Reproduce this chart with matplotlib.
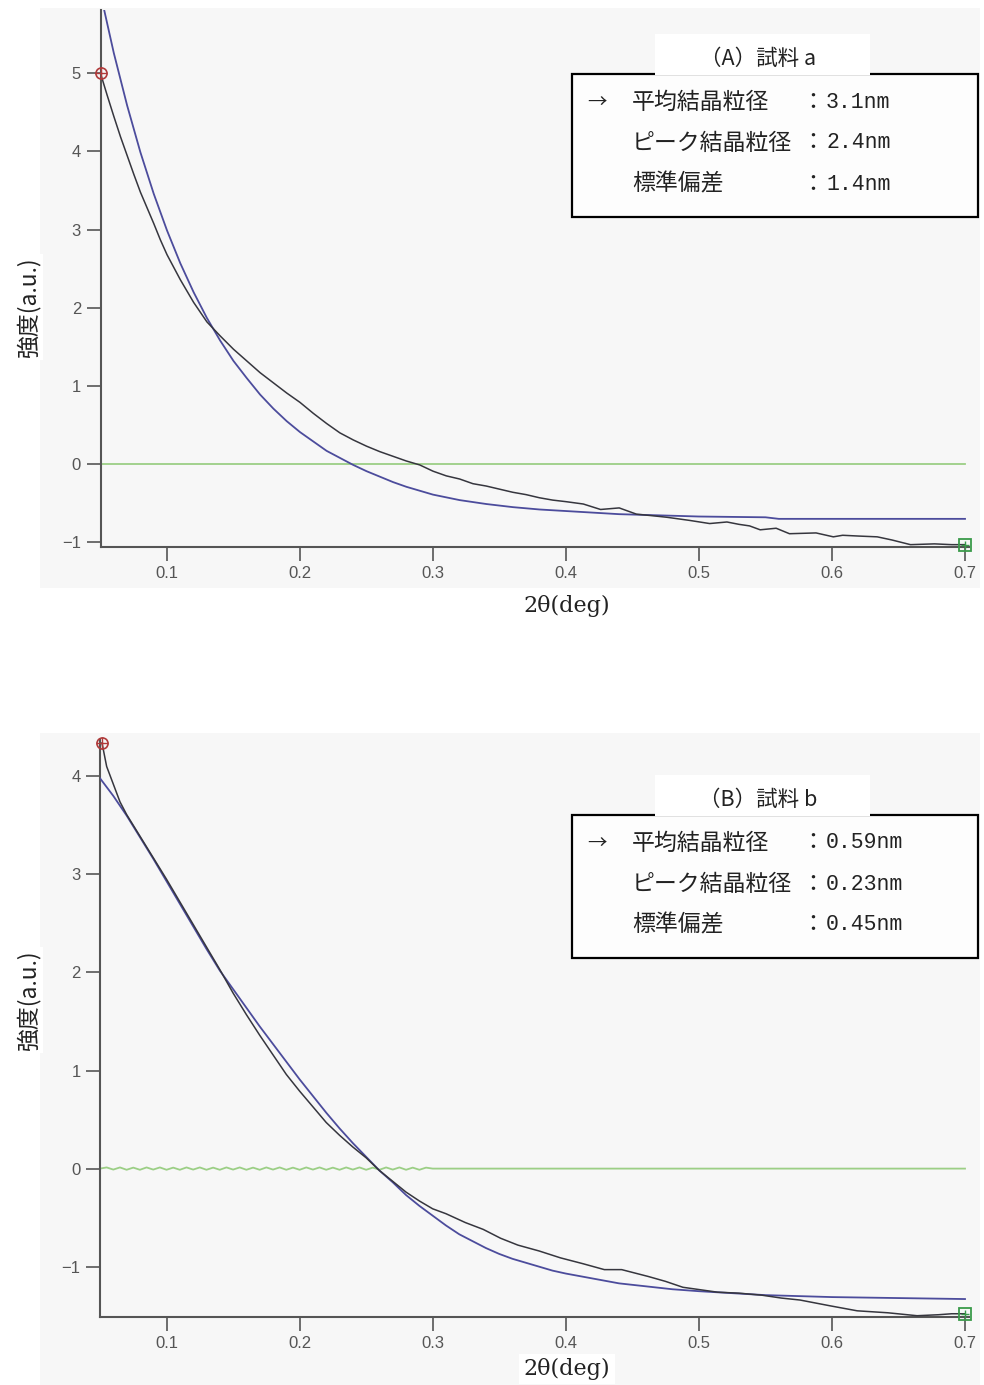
import numpy as np
import matplotlib.pyplot as plt
from matplotlib.patches import Rectangle

plt.rcParams['font.family'] = ['Noto Sans CJK JP', 'DejaVu Sans']

# ---- data ----
# (A) sample a
theta_a_data = [0.050, 0.055, 0.060, 0.065, 0.070, 0.075, 0.080, 0.085, 0.090, 0.095,
                0.100, 0.110, 0.120, 0.130, 0.140, 0.150, 0.160, 0.170, 0.180, 0.190,
                0.200, 0.210, 0.220, 0.230, 0.240, 0.250, 0.260, 0.270, 0.280, 0.290,
                0.300, 0.310, 0.320, 0.330, 0.340, 0.350, 0.360, 0.370, 0.380, 0.390,
                0.400, 0.413, 0.426, 0.433, 0.440, 0.453, 0.465, 0.476, 0.493, 0.508,
                0.521, 0.530, 0.538, 0.546, 0.558, 0.568, 0.588, 0.601, 0.608, 0.620,
                0.634, 0.645, 0.659, 0.677, 0.690, 0.700]
int_a_data = [5.00, 4.72, 4.45, 4.19, 3.95, 3.71, 3.48, 3.28, 3.08, 2.87,
              2.68, 2.36, 2.07, 1.82, 1.64, 1.47, 1.32, 1.17, 1.04, 0.91,
              0.79, 0.65, 0.52, 0.40, 0.31, 0.23, 0.16, 0.10, 0.04, -0.01,
              -0.09, -0.15, -0.19, -0.25, -0.28, -0.32, -0.36, -0.39, -0.43, -0.46,
              -0.48, -0.51, -0.58, -0.57, -0.56, -0.64, -0.66, -0.68, -0.72, -0.76,
              -0.74, -0.77, -0.79, -0.84, -0.82, -0.89, -0.88, -0.93, -0.91, -0.92,
              -0.93, -0.97, -1.03, -1.02, -1.03, -1.03]
theta_a_fit = [0.050, 0.060, 0.070, 0.080, 0.090, 0.100, 0.110, 0.120, 0.130, 0.140,
               0.150, 0.160, 0.170, 0.180, 0.190, 0.200, 0.210, 0.220, 0.230, 0.240,
               0.250, 0.260, 0.270, 0.280, 0.290, 0.300, 0.320, 0.340, 0.360, 0.380,
               0.400, 0.420, 0.440, 0.460, 0.480, 0.500, 0.550, 0.560, 0.600, 0.650, 0.700]
int_a_fit = [6.02, 5.26, 4.59, 3.99, 3.46, 2.99, 2.57, 2.20, 1.87, 1.58,
             1.32, 1.10, 0.89, 0.71, 0.55, 0.41, 0.29, 0.17, 0.08, -0.01,
             -0.09, -0.16, -0.23, -0.29, -0.34, -0.39, -0.46, -0.51, -0.55, -0.58,
             -0.60, -0.62, -0.64, -0.65, -0.66, -0.67, -0.68, -0.70, -0.70, -0.70, -0.70]
theta_a_resid = [0.050, 0.700]
resid_a = [0.0, 0.0]

# (B) sample b
theta_b_data = [0.0515, 0.055, 0.060, 0.065, 0.070, 0.080, 0.090, 0.100, 0.110, 0.120,
                0.130, 0.140, 0.150, 0.160, 0.170, 0.180, 0.190, 0.200, 0.210, 0.220,
                0.230, 0.240, 0.250, 0.260, 0.270, 0.280, 0.290, 0.300, 0.310, 0.3245,
                0.338, 0.351, 0.364, 0.380, 0.396, 0.413, 0.429, 0.442, 0.462, 0.475,
                0.488, 0.514, 0.530, 0.547, 0.562, 0.576, 0.599, 0.619, 0.642, 0.664,
                0.680, 0.690, 0.700]
int_b_data = [4.34, 4.10, 3.92, 3.74, 3.61, 3.39, 3.17, 2.95, 2.72, 2.49,
              2.26, 2.03, 1.79, 1.57, 1.36, 1.16, 0.96, 0.79, 0.63, 0.47,
              0.34, 0.22, 0.11, -0.02, -0.13, -0.24, -0.33, -0.41, -0.46, -0.55,
              -0.62, -0.71, -0.78, -0.84, -0.91, -0.97, -1.03, -1.03, -1.10, -1.15,
              -1.21, -1.26, -1.27, -1.29, -1.32, -1.34, -1.40, -1.45, -1.47, -1.50,
              -1.49, -1.48, -1.48]
theta_b_fit = [0.050, 0.060, 0.070, 0.080, 0.090, 0.100, 0.110, 0.120, 0.130, 0.140,
               0.150, 0.160, 0.170, 0.180, 0.190, 0.200, 0.210, 0.220, 0.230, 0.240,
               0.250, 0.260, 0.270, 0.280, 0.290, 0.300, 0.310, 0.320, 0.330, 0.340,
               0.350, 0.360, 0.370, 0.380, 0.390, 0.400, 0.420, 0.440, 0.460, 0.480,
               0.500, 0.550, 0.600, 0.650, 0.700]
int_b_fit = [3.98, 3.80, 3.60, 3.38, 3.16, 2.93, 2.70, 2.47, 2.24, 2.02,
             1.83, 1.64, 1.45, 1.27, 1.09, 0.91, 0.74, 0.57, 0.41, 0.26,
             0.12, -0.02, -0.14, -0.27, -0.38, -0.48, -0.58, -0.67, -0.74, -0.81,
             -0.87, -0.92, -0.96, -1.00, -1.04, -1.07, -1.12, -1.17, -1.20, -1.23,
             -1.25, -1.29, -1.31, -1.32, -1.33]
theta_b_resid = [0.050, 0.055, 0.060, 0.065, 0.070, 0.075, 0.080, 0.085, 0.090, 0.095,
                 0.100, 0.105, 0.110, 0.115, 0.120, 0.125, 0.130, 0.135, 0.140, 0.145,
                 0.150, 0.155, 0.160, 0.165, 0.170, 0.175, 0.180, 0.185, 0.190, 0.195,
                 0.200, 0.205, 0.210, 0.215, 0.220, 0.225, 0.230, 0.235, 0.240, 0.245,
                 0.250, 0.255, 0.260, 0.265, 0.270, 0.275, 0.280, 0.285, 0.290, 0.295,
                 0.300, 0.700]
resid_b = [0.000, 0.012, -0.010, 0.012, -0.012, 0.010, -0.012, 0.012, -0.010, 0.012,
           -0.012, 0.010, -0.012, 0.012, -0.010, 0.012, -0.012, 0.010, -0.012, 0.012,
           -0.010, 0.012, -0.012, 0.010, -0.012, 0.012, -0.010, 0.012, -0.012, 0.010,
           -0.012, 0.012, -0.010, 0.012, -0.012, 0.010, -0.012, 0.012, -0.010, 0.012,
           -0.012, 0.010, -0.012, 0.012, -0.010, 0.012, -0.012, 0.010, -0.012, 0.010,
           0.000, 0.000]

x_ticks = [0.1, 0.2, 0.3, 0.4, 0.5, 0.6, 0.7]
x_ticklabels = ['0.1', '0.2', '0.3', '0.4', '0.5', '0.6', '0.7']
y_ticks_a = [-1, 0, 1, 2, 3, 4, 5]
y_ticks_b = [-1, 0, 1, 2, 3, 4]

titles = ['（A）試料 a', '（B）試料 b']
row_labels = ['平均結晶粒径', 'ピーク結晶粒径', '標準偏差']
values_a = ['3.1nm', '2.4nm', '1.4nm']
values_b = ['0.59nm', '0.23nm', '0.45nm']

W, H = 984, 1385
fig = plt.figure(figsize=(W / 100, H / 100), dpi=100)
fig.patch.set_facecolor('white')


def fx(x):
    return x / W


def fy(y):
    return 1 - y / H


def bg_rect(x0, y0, x1, y1, fc, ec='none', lw=0, z=-1):
    r = Rectangle((fx(x0), fy(y1)), (x1 - x0) / W, (y1 - y0) / H,
                  transform=fig.transFigure, facecolor=fc, edgecolor=ec,
                  linewidth=lw, zorder=z)
    fig.patches.append(r)


# light grey panels behind the axes
bg_rect(40, 8, 980, 588, '#f7f7f7')
bg_rect(40, 733, 980, 1385, '#f7f7f7')

DATA_C = '#36363e'
FIT_C = '#4c4c9c'
RES_C = '#9ccf86'


def make_panel(box, ylim, yticks, th_d, y_d, th_f, y_f, th_r, y_r):
    x0, y0, x1, y1 = box
    ax = fig.add_axes([fx(x0), fy(y1), (x1 - x0) / W, (y1 - y0) / H])
    ax.set_facecolor('none')
    ax.plot(th_r, y_r, color=RES_C, lw=1.3, zorder=2)
    ax.plot(th_f, y_f, color=FIT_C, lw=1.3, zorder=3)
    ax.plot(th_d, y_d, color=DATA_C, lw=1.1, zorder=4)
    ax.plot(th_d[0], y_d[0], marker='o', ms=8, mfc='none', mec='#b03a3a',
            mew=1.2, clip_on=False, zorder=5)
    ax.plot(th_d[0], y_d[0], marker='+', ms=8, mec='#b03a3a', mew=1.0,
            clip_on=False, zorder=5)
    ax.plot(th_d[-1], y_d[-1], marker='s', ms=9, mfc='none', mec='#3a9a4a',
            mew=1.3, clip_on=False, zorder=5)
    ax.plot(th_d[-1], y_d[-1], marker='+', ms=6, mec='#3a9a4a', mew=1.0,
            clip_on=False, zorder=5)
    ax.set_xlim(0.05, 0.703)
    ax.set_ylim(*ylim)
    ax.set_xticks(x_ticks)
    ax.set_xticklabels(x_ticklabels)
    ax.set_yticks(yticks)
    for s in ['top', 'right']:
        ax.spines[s].set_visible(False)
    for s in ['left', 'bottom']:
        ax.spines[s].set_color('#555555')
        ax.spines[s].set_linewidth(1.5)
    ax.tick_params(direction='out', length=10, width=1.2, color='#555555',
                   labelcolor='#555555', labelsize=12, pad=4)
    for lab in ax.get_xticklabels() + ax.get_yticklabels():
        lab.set_family('Liberation Sans')
    return ax


make_panel((100.5, 10, 969, 547), (-1.06, 5.81), y_ticks_a,
           theta_a_data, int_a_data, theta_a_fit, int_a_fit, theta_a_resid, resid_a)
make_panel((100, 740, 969, 1316.7), (-1.51, 4.37), y_ticks_b,
           theta_b_data, int_b_data, theta_b_fit, int_b_fit, theta_b_resid, resid_b)

# axis labels
for yc in [307, 1000]:
    fig.text(fx(28), fy(yc), '強度(a.u.)', rotation=90, ha='center', va='center',
             fontsize=16.5, color='#222222',
             bbox=dict(facecolor='white', edgecolor='none', pad=2))
for yc in [606, 1369]:
    fig.text(fx(567), fy(yc), '2θ(deg)', ha='center', va='center',
             fontsize=16, color='#222222', family=['DejaVu Serif'],
             bbox=dict(facecolor='white', edgecolor='none', pad=3))


# info boxes
def info_box(top, title, values):
    bg_rect(572, top, 978, top + 143, '#fdfdfd', ec='black', lw=1.6, z=5)
    bg_rect(655, top - 40, 870, top + 1, 'white', z=6)
    fig.text(fx(758), fy(top - 15), title, ha='center', va='center',
             fontsize=15.5, color='#222222', zorder=7)
    for i, (lab, val) in enumerate(zip(row_labels, values)):
        yc = top + 28 + i * 41
        if i == 0:
            fig.text(fx(597), fy(yc), '→', ha='center', va='center',
                     fontsize=14, color='#222222', zorder=7)
        fig.text(fx(632), fy(yc), lab, ha='left', va='center',
                 fontsize=16.5, color='#222222', zorder=7)
        fig.text(fx(801), fy(yc), '：', ha='left', va='center',
                 fontsize=16.5, color='#222222', zorder=7)
        fig.text(fx(826), fy(yc), val, ha='left', va='center',
                 fontsize=15.5, color='#222222', family=['Liberation Mono'], zorder=7)


info_box(74, titles[0], values_a)
info_box(815, titles[1], values_b)

fig.savefig('out.png', dpi=100, facecolor='white')
